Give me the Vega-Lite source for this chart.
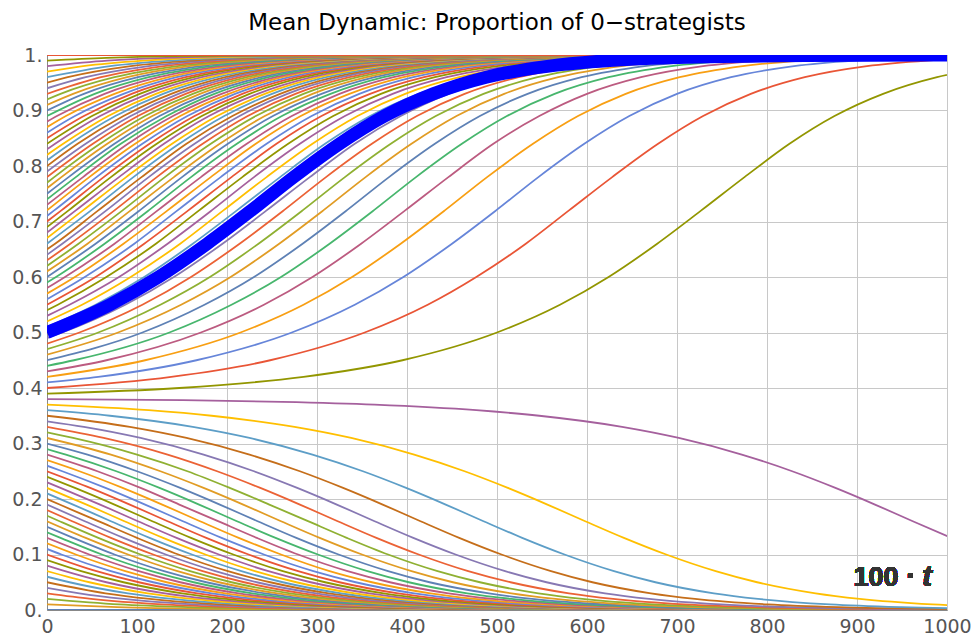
{
"$schema":"https://vega.github.io/schema/vega-lite/v6.json",
"width":900,"height":555,
"autosize":"none",
"padding":{"left":47,"top":55,"right":28,"bottom":34},
"background":"white",
"config":{"view":{"stroke":"#aaaaaa","strokeWidth":1}},
"title":{"text":"Mean Dynamic: Proportion of 0−strategists","font":"DejaVu Sans","fontSize":23,"fontWeight":"normal","color":"#000000","anchor":"middle","offset":11},
"data":{"values":[
{"c":0,"t":0,"y":0},{"c":0,"t":1000,"y":0},
{"c":1,"t":0,"y":0.01},{"c":1,"t":78,"y":0.005},{"c":1,"t":180,"y":0.002},{"c":1,"t":333,"y":0.0005},{"c":1,"t":1000,"y":0},
{"c":2,"t":0,"y":0.02},{"c":2,"t":80,"y":0.01},{"c":2,"t":159,"y":0.005},{"c":2,"t":260,"y":0.002},{"c":2,"t":413,"y":0.0005},{"c":2,"t":1000,"y":0},
{"c":3,"t":0,"y":0.03},{"c":3,"t":49,"y":0.02},{"c":3,"t":129,"y":0.01},{"c":3,"t":207,"y":0.005},{"c":3,"t":309,"y":0.002},{"c":3,"t":462,"y":0.0005},{"c":3,"t":1000,"y":0},
{"c":4,"t":0,"y":0.04},{"c":4,"t":36,"y":0.03},{"c":4,"t":85,"y":0.02},{"c":4,"t":165,"y":0.01},{"c":4,"t":243,"y":0.005},{"c":4,"t":345,"y":0.002},{"c":4,"t":498,"y":0.0005},{"c":4,"t":1000,"y":0},
{"c":5,"t":0,"y":0.05},{"c":5,"t":65,"y":0.03},{"c":5,"t":114,"y":0.02},{"c":5,"t":194,"y":0.01},{"c":5,"t":273,"y":0.005},{"c":5,"t":374,"y":0.002},{"c":5,"t":527,"y":0.0005},{"c":5,"t":1000,"y":0},
{"c":6,"t":0,"y":0.06},{"c":6,"t":25,"y":0.05},{"c":6,"t":90,"y":0.03},{"c":6,"t":139,"y":0.02},{"c":6,"t":219,"y":0.01},{"c":6,"t":297,"y":0.005},{"c":6,"t":399,"y":0.002},{"c":6,"t":552,"y":0.0005},{"c":6,"t":1000,"y":0},
{"c":7,"t":0,"y":0.07},{"c":7,"t":47,"y":0.05},{"c":7,"t":112,"y":0.03},{"c":7,"t":161,"y":0.02},{"c":7,"t":241,"y":0.01},{"c":7,"t":319,"y":0.005},{"c":7,"t":421,"y":0.002},{"c":7,"t":574,"y":0.0005},{"c":7,"t":1000,"y":0},
{"c":8,"t":0,"y":0.08},{"c":8,"t":20,"y":0.07},{"c":8,"t":66,"y":0.05},{"c":8,"t":131,"y":0.03},{"c":8,"t":180,"y":0.02},{"c":8,"t":261,"y":0.01},{"c":8,"t":339,"y":0.005},{"c":8,"t":441,"y":0.002},{"c":8,"t":594,"y":0.0005},{"c":8,"t":1000,"y":0},
{"c":9,"t":0,"y":0.09},{"c":9,"t":38,"y":0.07},{"c":9,"t":85,"y":0.05},{"c":9,"t":150,"y":0.03},{"c":9,"t":199,"y":0.02},{"c":9,"t":279,"y":0.01},{"c":9,"t":357,"y":0.005},{"c":9,"t":459,"y":0.002},{"c":9,"t":612,"y":0.0005},{"c":9,"t":1000,"y":0},
{"c":10,"t":0,"y":0.1},{"c":10,"t":55,"y":0.07},{"c":10,"t":102,"y":0.05},{"c":10,"t":167,"y":0.03},{"c":10,"t":216,"y":0.02},{"c":10,"t":296,"y":0.01},{"c":10,"t":374,"y":0.005},{"c":10,"t":476,"y":0.002},{"c":10,"t":629,"y":0.0005},{"c":10,"t":1000,"y":0},
{"c":11,"t":0,"y":0.11},{"c":11,"t":16,"y":0.1},{"c":11,"t":71,"y":0.07},{"c":11,"t":118,"y":0.05},{"c":11,"t":183,"y":0.03},{"c":11,"t":232,"y":0.02},{"c":11,"t":312,"y":0.01},{"c":11,"t":390,"y":0.005},{"c":11,"t":492,"y":0.002},{"c":11,"t":645,"y":0.0005},{"c":11,"t":1000,"y":0},
{"c":12,"t":0,"y":0.12},{"c":12,"t":32,"y":0.1},{"c":12,"t":87,"y":0.07},{"c":12,"t":133,"y":0.05},{"c":12,"t":198,"y":0.03},{"c":12,"t":247,"y":0.02},{"c":12,"t":327,"y":0.01},{"c":12,"t":406,"y":0.005},{"c":12,"t":508,"y":0.002},{"c":12,"t":661,"y":0.0005},{"c":12,"t":1000,"y":0},
{"c":13,"t":0,"y":0.13},{"c":13,"t":47,"y":0.1},{"c":13,"t":102,"y":0.07},{"c":13,"t":148,"y":0.05},{"c":13,"t":213,"y":0.03},{"c":13,"t":262,"y":0.02},{"c":13,"t":342,"y":0.01},{"c":13,"t":421,"y":0.005},{"c":13,"t":523,"y":0.002},{"c":13,"t":675,"y":0.0005},{"c":13,"t":1000,"y":0},
{"c":14,"t":0,"y":0.14},{"c":14,"t":15,"y":0.13},{"c":14,"t":61,"y":0.1},{"c":14,"t":116,"y":0.07},{"c":14,"t":163,"y":0.05},{"c":14,"t":228,"y":0.03},{"c":14,"t":277,"y":0.02},{"c":14,"t":357,"y":0.01},{"c":14,"t":435,"y":0.005},{"c":14,"t":537,"y":0.002},{"c":14,"t":690,"y":0.0005},{"c":14,"t":1000,"y":0},
{"c":15,"t":0,"y":0.15},{"c":15,"t":29,"y":0.13},{"c":15,"t":75,"y":0.1},{"c":15,"t":130,"y":0.07},{"c":15,"t":177,"y":0.05},{"c":15,"t":242,"y":0.03},{"c":15,"t":291,"y":0.02},{"c":15,"t":371,"y":0.01},{"c":15,"t":449,"y":0.005},{"c":15,"t":551,"y":0.002},{"c":15,"t":704,"y":0.0005},{"c":15,"t":1000,"y":0},
{"c":16,"t":0,"y":0.16},{"c":16,"t":43,"y":0.13},{"c":16,"t":90,"y":0.1},{"c":16,"t":145,"y":0.07},{"c":16,"t":191,"y":0.05},{"c":16,"t":256,"y":0.03},{"c":16,"t":305,"y":0.02},{"c":16,"t":385,"y":0.01},{"c":16,"t":464,"y":0.005},{"c":16,"t":566,"y":0.002},{"c":16,"t":718,"y":0.0005},{"c":16,"t":1000,"y":0},
{"c":17,"t":0,"y":0.17},{"c":17,"t":14,"y":0.16},{"c":17,"t":57,"y":0.13},{"c":17,"t":104,"y":0.1},{"c":17,"t":159,"y":0.07},{"c":17,"t":205,"y":0.05},{"c":17,"t":270,"y":0.03},{"c":17,"t":319,"y":0.02},{"c":17,"t":399,"y":0.01},{"c":17,"t":478,"y":0.005},{"c":17,"t":580,"y":0.002},{"c":17,"t":733,"y":0.0005},{"c":17,"t":1000,"y":0},
{"c":18,"t":0,"y":0.18},{"c":18,"t":28,"y":0.16},{"c":18,"t":71,"y":0.13},{"c":18,"t":118,"y":0.1},{"c":18,"t":173,"y":0.07},{"c":18,"t":219,"y":0.05},{"c":18,"t":284,"y":0.03},{"c":18,"t":333,"y":0.02},{"c":18,"t":414,"y":0.01},{"c":18,"t":492,"y":0.005},{"c":18,"t":594,"y":0.002},{"c":18,"t":747,"y":0.0005},{"c":18,"t":1000,"y":0},
{"c":19,"t":0,"y":0.19},{"c":19,"t":42,"y":0.16},{"c":19,"t":85,"y":0.13},{"c":19,"t":132,"y":0.1},{"c":19,"t":187,"y":0.07},{"c":19,"t":233,"y":0.05},{"c":19,"t":299,"y":0.03},{"c":19,"t":347,"y":0.02},{"c":19,"t":428,"y":0.01},{"c":19,"t":506,"y":0.005},{"c":19,"t":608,"y":0.002},{"c":19,"t":761,"y":0.0005},{"c":19,"t":1000,"y":0},
{"c":20,"t":0,"y":0.2},{"c":20,"t":14,"y":0.19},{"c":20,"t":57,"y":0.16},{"c":20,"t":100,"y":0.13},{"c":20,"t":146,"y":0.1},{"c":20,"t":201,"y":0.07},{"c":20,"t":248,"y":0.05},{"c":20,"t":313,"y":0.03},{"c":20,"t":362,"y":0.02},{"c":20,"t":442,"y":0.01},{"c":20,"t":520,"y":0.005},{"c":20,"t":622,"y":0.002},{"c":20,"t":775,"y":0.0005},{"c":20,"t":1000,"y":0},
{"c":21,"t":0,"y":0.21},{"c":21,"t":29,"y":0.19},{"c":21,"t":71,"y":0.16},{"c":21,"t":114,"y":0.13},{"c":21,"t":161,"y":0.1},{"c":21,"t":216,"y":0.07},{"c":21,"t":262,"y":0.05},{"c":21,"t":327,"y":0.03},{"c":21,"t":376,"y":0.02},{"c":21,"t":457,"y":0.01},{"c":21,"t":535,"y":0.005},{"c":21,"t":637,"y":0.002},{"c":21,"t":790,"y":0.0005},{"c":21,"t":1000,"y":0},
{"c":22,"t":0,"y":0.22},{"c":22,"t":44,"y":0.19},{"c":22,"t":86,"y":0.16},{"c":22,"t":129,"y":0.13},{"c":22,"t":176,"y":0.1},{"c":22,"t":231,"y":0.07},{"c":22,"t":277,"y":0.05},{"c":22,"t":342,"y":0.03},{"c":22,"t":391,"y":0.02},{"c":22,"t":472,"y":0.01},{"c":22,"t":550,"y":0.005},{"c":22,"t":652,"y":0.002},{"c":22,"t":805,"y":0.0005},{"c":22,"t":1000,"y":0},
{"c":23,"t":0,"y":0.23},{"c":23,"t":15,"y":0.22},{"c":23,"t":59,"y":0.19},{"c":23,"t":101,"y":0.16},{"c":23,"t":144,"y":0.13},{"c":23,"t":191,"y":0.1},{"c":23,"t":246,"y":0.07},{"c":23,"t":293,"y":0.05},{"c":23,"t":358,"y":0.03},{"c":23,"t":407,"y":0.02},{"c":23,"t":487,"y":0.01},{"c":23,"t":565,"y":0.005},{"c":23,"t":667,"y":0.002},{"c":23,"t":820,"y":0.0005},{"c":23,"t":1000,"y":0},
{"c":24,"t":0,"y":0.24},{"c":24,"t":31,"y":0.22},{"c":24,"t":75,"y":0.19},{"c":24,"t":117,"y":0.16},{"c":24,"t":160,"y":0.13},{"c":24,"t":207,"y":0.1},{"c":24,"t":262,"y":0.07},{"c":24,"t":309,"y":0.05},{"c":24,"t":374,"y":0.03},{"c":24,"t":422,"y":0.02},{"c":24,"t":503,"y":0.01},{"c":24,"t":581,"y":0.005},{"c":24,"t":683,"y":0.002},{"c":24,"t":836,"y":0.0005},{"c":24,"t":1000,"y":0},
{"c":25,"t":0,"y":0.25},{"c":25,"t":48,"y":0.22},{"c":25,"t":92,"y":0.19},{"c":25,"t":134,"y":0.16},{"c":25,"t":177,"y":0.13},{"c":25,"t":224,"y":0.1},{"c":25,"t":279,"y":0.07},{"c":25,"t":325,"y":0.05},{"c":25,"t":390,"y":0.03},{"c":25,"t":439,"y":0.02},{"c":25,"t":519,"y":0.01},{"c":25,"t":598,"y":0.005},{"c":25,"t":700,"y":0.002},{"c":25,"t":852,"y":0.0005},{"c":25,"t":1000,"y":0},
{"c":26,"t":0,"y":0.26},{"c":26,"t":17,"y":0.25},{"c":26,"t":65,"y":0.22},{"c":26,"t":109,"y":0.19},{"c":26,"t":151,"y":0.16},{"c":26,"t":194,"y":0.13},{"c":26,"t":241,"y":0.1},{"c":26,"t":296,"y":0.07},{"c":26,"t":343,"y":0.05},{"c":26,"t":408,"y":0.03},{"c":26,"t":457,"y":0.02},{"c":26,"t":537,"y":0.01},{"c":26,"t":615,"y":0.005},{"c":26,"t":717,"y":0.002},{"c":26,"t":870,"y":0.0005},{"c":26,"t":1000,"y":0},
{"c":27,"t":0,"y":0.27},{"c":27,"t":36,"y":0.25},{"c":27,"t":84,"y":0.22},{"c":27,"t":128,"y":0.19},{"c":27,"t":170,"y":0.16},{"c":27,"t":213,"y":0.13},{"c":27,"t":260,"y":0.1},{"c":27,"t":314,"y":0.07},{"c":27,"t":361,"y":0.05},{"c":27,"t":426,"y":0.03},{"c":27,"t":475,"y":0.02},{"c":27,"t":555,"y":0.01},{"c":27,"t":634,"y":0.005},{"c":27,"t":735,"y":0.002},{"c":27,"t":888,"y":0.0005},{"c":27,"t":1000,"y":0},
{"c":28,"t":0,"y":0.28},{"c":28,"t":56,"y":0.25},{"c":28,"t":104,"y":0.22},{"c":28,"t":147,"y":0.19},{"c":28,"t":190,"y":0.16},{"c":28,"t":233,"y":0.13},{"c":28,"t":279,"y":0.1},{"c":28,"t":334,"y":0.07},{"c":28,"t":381,"y":0.05},{"c":28,"t":446,"y":0.03},{"c":28,"t":495,"y":0.02},{"c":28,"t":575,"y":0.01},{"c":28,"t":653,"y":0.005},{"c":28,"t":755,"y":0.002},{"c":28,"t":908,"y":0.0005},{"c":28,"t":1000,"y":0},
{"c":29,"t":0,"y":0.29},{"c":29,"t":21,"y":0.28},{"c":29,"t":77,"y":0.25},{"c":29,"t":125,"y":0.22},{"c":29,"t":169,"y":0.19},{"c":29,"t":211,"y":0.16},{"c":29,"t":254,"y":0.13},{"c":29,"t":301,"y":0.1},{"c":29,"t":356,"y":0.07},{"c":29,"t":402,"y":0.05},{"c":29,"t":467,"y":0.03},{"c":29,"t":516,"y":0.02},{"c":29,"t":596,"y":0.01},{"c":29,"t":675,"y":0.005},{"c":29,"t":777,"y":0.002},{"c":29,"t":930,"y":0.0005},{"c":29,"t":1000,"y":0},
{"c":30,"t":0,"y":0.3},{"c":30,"t":45,"y":0.28},{"c":30,"t":100,"y":0.25},{"c":30,"t":148,"y":0.22},{"c":30,"t":192,"y":0.19},{"c":30,"t":234,"y":0.16},{"c":30,"t":277,"y":0.13},{"c":30,"t":324,"y":0.1},{"c":30,"t":379,"y":0.07},{"c":30,"t":425,"y":0.05},{"c":30,"t":491,"y":0.03},{"c":30,"t":539,"y":0.02},{"c":30,"t":620,"y":0.01},{"c":30,"t":698,"y":0.005},{"c":30,"t":800,"y":0.002},{"c":30,"t":953,"y":0.0005},{"c":30,"t":1000,"y":0},
{"c":31,"t":0,"y":0.31},{"c":31,"t":71,"y":0.28},{"c":31,"t":126,"y":0.25},{"c":31,"t":174,"y":0.22},{"c":31,"t":218,"y":0.19},{"c":31,"t":260,"y":0.16},{"c":31,"t":303,"y":0.13},{"c":31,"t":350,"y":0.1},{"c":31,"t":405,"y":0.07},{"c":31,"t":451,"y":0.05},{"c":31,"t":516,"y":0.03},{"c":31,"t":565,"y":0.02},{"c":31,"t":646,"y":0.01},{"c":31,"t":724,"y":0.005},{"c":31,"t":826,"y":0.002},{"c":31,"t":979,"y":0.0005},{"c":31,"t":1000,"y":0},
{"c":32,"t":0,"y":0.32},{"c":32,"t":29,"y":0.31},{"c":32,"t":100,"y":0.28},{"c":32,"t":156,"y":0.25},{"c":32,"t":203,"y":0.22},{"c":32,"t":247,"y":0.19},{"c":32,"t":290,"y":0.16},{"c":32,"t":333,"y":0.13},{"c":32,"t":379,"y":0.1},{"c":32,"t":434,"y":0.07},{"c":32,"t":481,"y":0.05},{"c":32,"t":546,"y":0.03},{"c":32,"t":595,"y":0.02},{"c":32,"t":675,"y":0.01},{"c":32,"t":753,"y":0.005},{"c":32,"t":855,"y":0.002},{"c":32,"t":1008,"y":0.0005},
{"c":33,"t":0,"y":0.33},{"c":33,"t":63,"y":0.31},{"c":33,"t":134,"y":0.28},{"c":33,"t":189,"y":0.25},{"c":33,"t":237,"y":0.22},{"c":33,"t":281,"y":0.19},{"c":33,"t":323,"y":0.16},{"c":33,"t":366,"y":0.13},{"c":33,"t":413,"y":0.1},{"c":33,"t":468,"y":0.07},{"c":33,"t":515,"y":0.05},{"c":33,"t":580,"y":0.03},{"c":33,"t":629,"y":0.02},{"c":33,"t":709,"y":0.01},{"c":33,"t":787,"y":0.005},{"c":33,"t":889,"y":0.002},{"c":33,"t":1042,"y":0.0005},
{"c":34,"t":0,"y":0.34},{"c":34,"t":41,"y":0.33},{"c":34,"t":104,"y":0.31},{"c":34,"t":174,"y":0.28},{"c":34,"t":230,"y":0.25},{"c":34,"t":278,"y":0.22},{"c":34,"t":322,"y":0.19},{"c":34,"t":364,"y":0.16},{"c":34,"t":407,"y":0.13},{"c":34,"t":454,"y":0.1},{"c":34,"t":509,"y":0.07},{"c":34,"t":555,"y":0.05},{"c":34,"t":620,"y":0.03},{"c":34,"t":669,"y":0.02},{"c":34,"t":749,"y":0.01},{"c":34,"t":828,"y":0.005},{"c":34,"t":930,"y":0.002},{"c":34,"t":1083,"y":0.0005},
{"c":35,"t":0,"y":0.35},{"c":35,"t":92,"y":0.33},{"c":35,"t":155,"y":0.31},{"c":35,"t":225,"y":0.28},{"c":35,"t":281,"y":0.25},{"c":35,"t":329,"y":0.22},{"c":35,"t":373,"y":0.19},{"c":35,"t":415,"y":0.16},{"c":35,"t":458,"y":0.13},{"c":35,"t":505,"y":0.1},{"c":35,"t":560,"y":0.07},{"c":35,"t":606,"y":0.05},{"c":35,"t":671,"y":0.03},{"c":35,"t":720,"y":0.02},{"c":35,"t":801,"y":0.01},{"c":35,"t":879,"y":0.005},{"c":35,"t":981,"y":0.002},{"c":35,"t":1134,"y":0.0005},
{"c":36,"t":0,"y":0.36},{"c":36,"t":70,"y":0.35},{"c":36,"t":162,"y":0.33},{"c":36,"t":225,"y":0.31},{"c":36,"t":295,"y":0.28},{"c":36,"t":351,"y":0.25},{"c":36,"t":399,"y":0.22},{"c":36,"t":443,"y":0.19},{"c":36,"t":485,"y":0.16},{"c":36,"t":528,"y":0.13},{"c":36,"t":575,"y":0.1},{"c":36,"t":630,"y":0.07},{"c":36,"t":676,"y":0.05},{"c":36,"t":741,"y":0.03},{"c":36,"t":790,"y":0.02},{"c":36,"t":870,"y":0.01},{"c":36,"t":949,"y":0.005},{"c":36,"t":1051,"y":0.002},
{"c":37,"t":0,"y":0.37},{"c":37,"t":113,"y":0.36},{"c":37,"t":183,"y":0.35},{"c":37,"t":275,"y":0.33},{"c":37,"t":338,"y":0.31},{"c":37,"t":408,"y":0.28},{"c":37,"t":464,"y":0.25},{"c":37,"t":512,"y":0.22},{"c":37,"t":556,"y":0.19},{"c":37,"t":598,"y":0.16},{"c":37,"t":641,"y":0.13},{"c":37,"t":688,"y":0.1},{"c":37,"t":743,"y":0.07},{"c":37,"t":789,"y":0.05},{"c":37,"t":854,"y":0.03},{"c":37,"t":903,"y":0.02},{"c":37,"t":984,"y":0.01},{"c":37,"t":1062,"y":0.005},
{"c":38,"t":0,"y":0.38},{"c":38,"t":151,"y":0.378},{"c":38,"t":261,"y":0.375},{"c":38,"t":364,"y":0.37},{"c":38,"t":477,"y":0.36},{"c":38,"t":547,"y":0.35},{"c":38,"t":639,"y":0.33},{"c":38,"t":702,"y":0.31},{"c":38,"t":772,"y":0.28},{"c":38,"t":828,"y":0.25},{"c":38,"t":876,"y":0.22},{"c":38,"t":920,"y":0.19},{"c":38,"t":962,"y":0.16},{"c":38,"t":1005,"y":0.13},
{"c":39,"t":0,"y":0.39},{"c":39,"t":147,"y":0.4},{"c":39,"t":285,"y":0.42},{"c":39,"t":395,"y":0.45},{"c":39,"t":500,"y":0.5},{"c":39,"t":570,"y":0.55},{"c":39,"t":624,"y":0.6},{"c":39,"t":678,"y":0.66},{"c":39,"t":727,"y":0.72},{"c":39,"t":775,"y":0.78},{"c":39,"t":825,"y":0.84},{"c":39,"t":875,"y":0.89},{"c":39,"t":929,"y":0.93},{"c":39,"t":989,"y":0.96},{"c":39,"t":1058,"y":0.98},
{"c":40,"t":0,"y":0.4},{"c":40,"t":138,"y":0.42},{"c":40,"t":248,"y":0.45},{"c":40,"t":353,"y":0.5},{"c":40,"t":423,"y":0.55},{"c":40,"t":477,"y":0.6},{"c":40,"t":532,"y":0.66},{"c":40,"t":580,"y":0.72},{"c":40,"t":628,"y":0.78},{"c":40,"t":679,"y":0.84},{"c":40,"t":729,"y":0.89},{"c":40,"t":782,"y":0.93},{"c":40,"t":842,"y":0.96},{"c":40,"t":911,"y":0.98},{"c":40,"t":978,"y":0.99},{"c":40,"t":1044,"y":0.995},
{"c":41,"t":0,"y":0.41},{"c":41,"t":57,"y":0.42},{"c":41,"t":166,"y":0.45},{"c":41,"t":272,"y":0.5},{"c":41,"t":342,"y":0.55},{"c":41,"t":396,"y":0.6},{"c":41,"t":450,"y":0.66},{"c":41,"t":499,"y":0.72},{"c":41,"t":546,"y":0.78},{"c":41,"t":597,"y":0.84},{"c":41,"t":647,"y":0.89},{"c":41,"t":700,"y":0.93},{"c":41,"t":760,"y":0.96},{"c":41,"t":830,"y":0.98},{"c":41,"t":897,"y":0.99},{"c":41,"t":963,"y":0.995},{"c":41,"t":1114,"y":0.999},
{"c":42,"t":0,"y":0.42},{"c":42,"t":109,"y":0.45},{"c":42,"t":215,"y":0.5},{"c":42,"t":285,"y":0.55},{"c":42,"t":339,"y":0.6},{"c":42,"t":393,"y":0.66},{"c":42,"t":442,"y":0.72},{"c":42,"t":489,"y":0.78},{"c":42,"t":540,"y":0.84},{"c":42,"t":590,"y":0.89},{"c":42,"t":643,"y":0.93},{"c":42,"t":703,"y":0.96},{"c":42,"t":773,"y":0.98},{"c":42,"t":840,"y":0.99},{"c":42,"t":906,"y":0.995},{"c":42,"t":1057,"y":0.999},
{"c":43,"t":0,"y":0.43},{"c":43,"t":66,"y":0.45},{"c":43,"t":171,"y":0.5},{"c":43,"t":241,"y":0.55},{"c":43,"t":295,"y":0.6},{"c":43,"t":349,"y":0.66},{"c":43,"t":398,"y":0.72},{"c":43,"t":446,"y":0.78},{"c":43,"t":496,"y":0.84},{"c":43,"t":547,"y":0.89},{"c":43,"t":600,"y":0.93},{"c":43,"t":660,"y":0.96},{"c":43,"t":729,"y":0.98},{"c":43,"t":796,"y":0.99},{"c":43,"t":862,"y":0.995},{"c":43,"t":1014,"y":0.999},
{"c":44,"t":0,"y":0.44},{"c":44,"t":30,"y":0.45},{"c":44,"t":136,"y":0.5},{"c":44,"t":205,"y":0.55},{"c":44,"t":260,"y":0.6},{"c":44,"t":314,"y":0.66},{"c":44,"t":363,"y":0.72},{"c":44,"t":410,"y":0.78},{"c":44,"t":461,"y":0.84},{"c":44,"t":511,"y":0.89},{"c":44,"t":564,"y":0.93},{"c":44,"t":624,"y":0.96},{"c":44,"t":694,"y":0.98},{"c":44,"t":761,"y":0.99},{"c":44,"t":827,"y":0.995},{"c":44,"t":978,"y":0.999},{"c":44,"t":1000,"y":1},
{"c":45,"t":0,"y":0.45},{"c":45,"t":106,"y":0.5},{"c":45,"t":175,"y":0.55},{"c":45,"t":230,"y":0.6},{"c":45,"t":284,"y":0.66},{"c":45,"t":333,"y":0.72},{"c":45,"t":380,"y":0.78},{"c":45,"t":431,"y":0.84},{"c":45,"t":481,"y":0.89},{"c":45,"t":534,"y":0.93},{"c":45,"t":594,"y":0.96},{"c":45,"t":664,"y":0.98},{"c":45,"t":731,"y":0.99},{"c":45,"t":797,"y":0.995},{"c":45,"t":948,"y":0.999},{"c":45,"t":1000,"y":1},
{"c":46,"t":0,"y":0.46},{"c":46,"t":79,"y":0.5},{"c":46,"t":149,"y":0.55},{"c":46,"t":204,"y":0.6},{"c":46,"t":258,"y":0.66},{"c":46,"t":307,"y":0.72},{"c":46,"t":354,"y":0.78},{"c":46,"t":405,"y":0.84},{"c":46,"t":455,"y":0.89},{"c":46,"t":508,"y":0.93},{"c":46,"t":568,"y":0.96},{"c":46,"t":638,"y":0.98},{"c":46,"t":705,"y":0.99},{"c":46,"t":771,"y":0.995},{"c":46,"t":922,"y":0.999},{"c":46,"t":1000,"y":1},
{"c":47,"t":0,"y":0.47},{"c":47,"t":57,"y":0.5},{"c":47,"t":126,"y":0.55},{"c":47,"t":181,"y":0.6},{"c":47,"t":235,"y":0.66},{"c":47,"t":284,"y":0.72},{"c":47,"t":331,"y":0.78},{"c":47,"t":382,"y":0.84},{"c":47,"t":432,"y":0.89},{"c":47,"t":485,"y":0.93},{"c":47,"t":545,"y":0.96},{"c":47,"t":615,"y":0.98},{"c":47,"t":682,"y":0.99},{"c":47,"t":748,"y":0.995},{"c":47,"t":899,"y":0.999},{"c":47,"t":1000,"y":1},
{"c":48,"t":0,"y":0.48},{"c":48,"t":36,"y":0.5},{"c":48,"t":106,"y":0.55},{"c":48,"t":160,"y":0.6},{"c":48,"t":214,"y":0.66},{"c":48,"t":263,"y":0.72},{"c":48,"t":310,"y":0.78},{"c":48,"t":361,"y":0.84},{"c":48,"t":411,"y":0.89},{"c":48,"t":464,"y":0.93},{"c":48,"t":524,"y":0.96},{"c":48,"t":594,"y":0.98},{"c":48,"t":661,"y":0.99},{"c":48,"t":727,"y":0.995},{"c":48,"t":878,"y":0.999},{"c":48,"t":1000,"y":1},
{"c":49,"t":0,"y":0.49},{"c":49,"t":17,"y":0.5},{"c":49,"t":87,"y":0.55},{"c":49,"t":141,"y":0.6},{"c":49,"t":195,"y":0.66},{"c":49,"t":244,"y":0.72},{"c":49,"t":292,"y":0.78},{"c":49,"t":342,"y":0.84},{"c":49,"t":393,"y":0.89},{"c":49,"t":446,"y":0.93},{"c":49,"t":506,"y":0.96},{"c":49,"t":575,"y":0.98},{"c":49,"t":642,"y":0.99},{"c":49,"t":708,"y":0.995},{"c":49,"t":860,"y":0.999},{"c":49,"t":1000,"y":1},
{"c":50,"t":0,"y":0.5},{"c":50,"t":70,"y":0.55},{"c":50,"t":124,"y":0.6},{"c":50,"t":178,"y":0.66},{"c":50,"t":227,"y":0.72},{"c":50,"t":274,"y":0.78},{"c":50,"t":325,"y":0.84},{"c":50,"t":375,"y":0.89},{"c":50,"t":429,"y":0.93},{"c":50,"t":488,"y":0.96},{"c":50,"t":558,"y":0.98},{"c":50,"t":625,"y":0.99},{"c":50,"t":691,"y":0.995},{"c":50,"t":842,"y":0.999},{"c":50,"t":1000,"y":1},
{"c":51,"t":0,"y":0.51},{"c":51,"t":54,"y":0.55},{"c":51,"t":108,"y":0.6},{"c":51,"t":162,"y":0.66},{"c":51,"t":211,"y":0.72},{"c":51,"t":259,"y":0.78},{"c":51,"t":309,"y":0.84},{"c":51,"t":359,"y":0.89},{"c":51,"t":413,"y":0.93},{"c":51,"t":473,"y":0.96},{"c":51,"t":542,"y":0.98},{"c":51,"t":609,"y":0.99},{"c":51,"t":675,"y":0.995},{"c":51,"t":827,"y":0.999},{"c":51,"t":1000,"y":1},
{"c":52,"t":0,"y":0.52},{"c":52,"t":39,"y":0.55},{"c":52,"t":93,"y":0.6},{"c":52,"t":148,"y":0.66},{"c":52,"t":196,"y":0.72},{"c":52,"t":244,"y":0.78},{"c":52,"t":295,"y":0.84},{"c":52,"t":345,"y":0.89},{"c":52,"t":398,"y":0.93},{"c":52,"t":458,"y":0.96},{"c":52,"t":527,"y":0.98},{"c":52,"t":595,"y":0.99},{"c":52,"t":660,"y":0.995},{"c":52,"t":812,"y":0.999},{"c":52,"t":1000,"y":1},
{"c":53,"t":0,"y":0.53},{"c":53,"t":25,"y":0.55},{"c":53,"t":80,"y":0.6},{"c":53,"t":134,"y":0.66},{"c":53,"t":183,"y":0.72},{"c":53,"t":230,"y":0.78},{"c":53,"t":281,"y":0.84},{"c":53,"t":331,"y":0.89},{"c":53,"t":384,"y":0.93},{"c":53,"t":444,"y":0.96},{"c":53,"t":514,"y":0.98},{"c":53,"t":581,"y":0.99},{"c":53,"t":647,"y":0.995},{"c":53,"t":798,"y":0.999},{"c":53,"t":1000,"y":1},
{"c":54,"t":0,"y":0.54},{"c":54,"t":12,"y":0.55},{"c":54,"t":66,"y":0.6},{"c":54,"t":121,"y":0.66},{"c":54,"t":169,"y":0.72},{"c":54,"t":217,"y":0.78},{"c":54,"t":268,"y":0.84},{"c":54,"t":318,"y":0.89},{"c":54,"t":371,"y":0.93},{"c":54,"t":431,"y":0.96},{"c":54,"t":500,"y":0.98},{"c":54,"t":568,"y":0.99},{"c":54,"t":634,"y":0.995},{"c":54,"t":785,"y":0.999},{"c":54,"t":1000,"y":1},
{"c":55,"t":0,"y":0.55},{"c":55,"t":54,"y":0.6},{"c":55,"t":108,"y":0.66},{"c":55,"t":157,"y":0.72},{"c":55,"t":205,"y":0.78},{"c":55,"t":255,"y":0.84},{"c":55,"t":305,"y":0.89},{"c":55,"t":359,"y":0.93},{"c":55,"t":419,"y":0.96},{"c":55,"t":488,"y":0.98},{"c":55,"t":555,"y":0.99},{"c":55,"t":621,"y":0.995},{"c":55,"t":772,"y":0.999},{"c":55,"t":1000,"y":1},
{"c":56,"t":0,"y":0.56},{"c":56,"t":42,"y":0.6},{"c":56,"t":97,"y":0.66},{"c":56,"t":145,"y":0.72},{"c":56,"t":193,"y":0.78},{"c":56,"t":244,"y":0.84},{"c":56,"t":294,"y":0.89},{"c":56,"t":347,"y":0.93},{"c":56,"t":407,"y":0.96},{"c":56,"t":476,"y":0.98},{"c":56,"t":543,"y":0.99},{"c":56,"t":609,"y":0.995},{"c":56,"t":761,"y":0.999},{"c":56,"t":1000,"y":1},
{"c":57,"t":0,"y":0.57},{"c":57,"t":31,"y":0.6},{"c":57,"t":85,"y":0.66},{"c":57,"t":134,"y":0.72},{"c":57,"t":182,"y":0.78},{"c":57,"t":232,"y":0.84},{"c":57,"t":282,"y":0.89},{"c":57,"t":336,"y":0.93},{"c":57,"t":396,"y":0.96},{"c":57,"t":465,"y":0.98},{"c":57,"t":532,"y":0.99},{"c":57,"t":598,"y":0.995},{"c":57,"t":749,"y":0.999},{"c":57,"t":1000,"y":1},
{"c":58,"t":0,"y":0.58},{"c":58,"t":20,"y":0.6},{"c":58,"t":75,"y":0.66},{"c":58,"t":123,"y":0.72},{"c":58,"t":171,"y":0.78},{"c":58,"t":222,"y":0.84},{"c":58,"t":272,"y":0.89},{"c":58,"t":325,"y":0.93},{"c":58,"t":385,"y":0.96},{"c":58,"t":454,"y":0.98},{"c":58,"t":521,"y":0.99},{"c":58,"t":587,"y":0.995},{"c":58,"t":739,"y":0.999},{"c":58,"t":1000,"y":1},
{"c":59,"t":0,"y":0.59},{"c":59,"t":10,"y":0.6},{"c":59,"t":64,"y":0.66},{"c":59,"t":113,"y":0.72},{"c":59,"t":160,"y":0.78},{"c":59,"t":211,"y":0.84},{"c":59,"t":261,"y":0.89},{"c":59,"t":315,"y":0.93},{"c":59,"t":374,"y":0.96},{"c":59,"t":444,"y":0.98},{"c":59,"t":511,"y":0.99},{"c":59,"t":577,"y":0.995},{"c":59,"t":728,"y":0.999},{"c":59,"t":1000,"y":1},
{"c":60,"t":0,"y":0.6},{"c":60,"t":54,"y":0.66},{"c":60,"t":103,"y":0.72},{"c":60,"t":150,"y":0.78},{"c":60,"t":201,"y":0.84},{"c":60,"t":251,"y":0.89},{"c":60,"t":305,"y":0.93},{"c":60,"t":364,"y":0.96},{"c":60,"t":434,"y":0.98},{"c":60,"t":501,"y":0.99},{"c":60,"t":567,"y":0.995},{"c":60,"t":718,"y":0.999},{"c":60,"t":1000,"y":1},
{"c":61,"t":0,"y":0.61},{"c":61,"t":45,"y":0.66},{"c":61,"t":93,"y":0.72},{"c":61,"t":141,"y":0.78},{"c":61,"t":192,"y":0.84},{"c":61,"t":242,"y":0.89},{"c":61,"t":295,"y":0.93},{"c":61,"t":355,"y":0.96},{"c":61,"t":424,"y":0.98},{"c":61,"t":491,"y":0.99},{"c":61,"t":557,"y":0.995},{"c":61,"t":709,"y":0.999},{"c":61,"t":1000,"y":1},
{"c":62,"t":0,"y":0.62},{"c":62,"t":35,"y":0.66},{"c":62,"t":84,"y":0.72},{"c":62,"t":131,"y":0.78},{"c":62,"t":182,"y":0.84},{"c":62,"t":232,"y":0.89},{"c":62,"t":285,"y":0.93},{"c":62,"t":345,"y":0.96},{"c":62,"t":415,"y":0.98},{"c":62,"t":482,"y":0.99},{"c":62,"t":548,"y":0.995},{"c":62,"t":699,"y":0.999},{"c":62,"t":1000,"y":1},
{"c":63,"t":0,"y":0.63},{"c":63,"t":26,"y":0.66},{"c":63,"t":75,"y":0.72},{"c":63,"t":122,"y":0.78},{"c":63,"t":173,"y":0.84},{"c":63,"t":223,"y":0.89},{"c":63,"t":276,"y":0.93},{"c":63,"t":336,"y":0.96},{"c":63,"t":406,"y":0.98},{"c":63,"t":473,"y":0.99},{"c":63,"t":539,"y":0.995},{"c":63,"t":690,"y":0.999},{"c":63,"t":1000,"y":1},
{"c":64,"t":0,"y":0.64},{"c":64,"t":17,"y":0.66},{"c":64,"t":66,"y":0.72},{"c":64,"t":113,"y":0.78},{"c":64,"t":164,"y":0.84},{"c":64,"t":214,"y":0.89},{"c":64,"t":267,"y":0.93},{"c":64,"t":327,"y":0.96},{"c":64,"t":397,"y":0.98},{"c":64,"t":464,"y":0.99},{"c":64,"t":530,"y":0.995},{"c":64,"t":681,"y":0.999},{"c":64,"t":1000,"y":1},
{"c":65,"t":0,"y":0.65},{"c":65,"t":9,"y":0.66},{"c":65,"t":57,"y":0.72},{"c":65,"t":105,"y":0.78},{"c":65,"t":155,"y":0.84},{"c":65,"t":206,"y":0.89},{"c":65,"t":259,"y":0.93},{"c":65,"t":319,"y":0.96},{"c":65,"t":388,"y":0.98},{"c":65,"t":455,"y":0.99},{"c":65,"t":521,"y":0.995},{"c":65,"t":673,"y":0.999},{"c":65,"t":1000,"y":1},
{"c":66,"t":0,"y":0.66},{"c":66,"t":49,"y":0.72},{"c":66,"t":96,"y":0.78},{"c":66,"t":147,"y":0.84},{"c":66,"t":197,"y":0.89},{"c":66,"t":250,"y":0.93},{"c":66,"t":310,"y":0.96},{"c":66,"t":380,"y":0.98},{"c":66,"t":447,"y":0.99},{"c":66,"t":513,"y":0.995},{"c":66,"t":664,"y":0.999},{"c":66,"t":1000,"y":1},
{"c":67,"t":0,"y":0.67},{"c":67,"t":40,"y":0.72},{"c":67,"t":88,"y":0.78},{"c":67,"t":139,"y":0.84},{"c":67,"t":189,"y":0.89},{"c":67,"t":242,"y":0.93},{"c":67,"t":302,"y":0.96},{"c":67,"t":371,"y":0.98},{"c":67,"t":438,"y":0.99},{"c":67,"t":504,"y":0.995},{"c":67,"t":656,"y":0.999},{"c":67,"t":1000,"y":1},
{"c":68,"t":0,"y":0.68},{"c":68,"t":32,"y":0.72},{"c":68,"t":80,"y":0.78},{"c":68,"t":130,"y":0.84},{"c":68,"t":180,"y":0.89},{"c":68,"t":234,"y":0.93},{"c":68,"t":294,"y":0.96},{"c":68,"t":363,"y":0.98},{"c":68,"t":430,"y":0.99},{"c":68,"t":496,"y":0.995},{"c":68,"t":647,"y":0.999},{"c":68,"t":1000,"y":1},
{"c":69,"t":0,"y":0.69},{"c":69,"t":24,"y":0.72},{"c":69,"t":71,"y":0.78},{"c":69,"t":122,"y":0.84},{"c":69,"t":172,"y":0.89},{"c":69,"t":225,"y":0.93},{"c":69,"t":285,"y":0.96},{"c":69,"t":355,"y":0.98},{"c":69,"t":422,"y":0.99},{"c":69,"t":488,"y":0.995},{"c":69,"t":639,"y":0.999},{"c":69,"t":1000,"y":1},
{"c":70,"t":0,"y":0.7},{"c":70,"t":16,"y":0.72},{"c":70,"t":63,"y":0.78},{"c":70,"t":114,"y":0.84},{"c":70,"t":164,"y":0.89},{"c":70,"t":217,"y":0.93},{"c":70,"t":277,"y":0.96},{"c":70,"t":347,"y":0.98},{"c":70,"t":414,"y":0.99},{"c":70,"t":480,"y":0.995},{"c":70,"t":631,"y":0.999},{"c":70,"t":1000,"y":1},
{"c":71,"t":0,"y":0.71},{"c":71,"t":8,"y":0.72},{"c":71,"t":55,"y":0.78},{"c":71,"t":106,"y":0.84},{"c":71,"t":156,"y":0.89},{"c":71,"t":209,"y":0.93},{"c":71,"t":269,"y":0.96},{"c":71,"t":339,"y":0.98},{"c":71,"t":406,"y":0.99},{"c":71,"t":472,"y":0.995},{"c":71,"t":623,"y":0.999},{"c":71,"t":1000,"y":1},
{"c":72,"t":0,"y":0.72},{"c":72,"t":47,"y":0.78},{"c":72,"t":98,"y":0.84},{"c":72,"t":148,"y":0.89},{"c":72,"t":202,"y":0.93},{"c":72,"t":261,"y":0.96},{"c":72,"t":331,"y":0.98},{"c":72,"t":398,"y":0.99},{"c":72,"t":464,"y":0.995},{"c":72,"t":615,"y":0.999},{"c":72,"t":1000,"y":1},
{"c":73,"t":0,"y":0.73},{"c":73,"t":40,"y":0.78},{"c":73,"t":90,"y":0.84},{"c":73,"t":140,"y":0.89},{"c":73,"t":194,"y":0.93},{"c":73,"t":254,"y":0.96},{"c":73,"t":323,"y":0.98},{"c":73,"t":390,"y":0.99},{"c":73,"t":456,"y":0.995},{"c":73,"t":608,"y":0.999},{"c":73,"t":1000,"y":1},
{"c":74,"t":0,"y":0.74},{"c":74,"t":32,"y":0.78},{"c":74,"t":82,"y":0.84},{"c":74,"t":133,"y":0.89},{"c":74,"t":186,"y":0.93},{"c":74,"t":246,"y":0.96},{"c":74,"t":315,"y":0.98},{"c":74,"t":382,"y":0.99},{"c":74,"t":448,"y":0.995},{"c":74,"t":600,"y":0.999},{"c":74,"t":1000,"y":1},
{"c":75,"t":0,"y":0.75},{"c":75,"t":24,"y":0.78},{"c":75,"t":75,"y":0.84},{"c":75,"t":125,"y":0.89},{"c":75,"t":178,"y":0.93},{"c":75,"t":238,"y":0.96},{"c":75,"t":307,"y":0.98},{"c":75,"t":375,"y":0.99},{"c":75,"t":440,"y":0.995},{"c":75,"t":592,"y":0.999},{"c":75,"t":1000,"y":1},
{"c":76,"t":0,"y":0.76},{"c":76,"t":16,"y":0.78},{"c":76,"t":67,"y":0.84},{"c":76,"t":117,"y":0.89},{"c":76,"t":170,"y":0.93},{"c":76,"t":230,"y":0.96},{"c":76,"t":299,"y":0.98},{"c":76,"t":367,"y":0.99},{"c":76,"t":433,"y":0.995},{"c":76,"t":584,"y":0.999},{"c":76,"t":1000,"y":1},
{"c":77,"t":0,"y":0.77},{"c":77,"t":8,"y":0.78},{"c":77,"t":59,"y":0.84},{"c":77,"t":109,"y":0.89},{"c":77,"t":162,"y":0.93},{"c":77,"t":222,"y":0.96},{"c":77,"t":292,"y":0.98},{"c":77,"t":359,"y":0.99},{"c":77,"t":425,"y":0.995},{"c":77,"t":576,"y":0.999},{"c":77,"t":1000,"y":1},
{"c":78,"t":0,"y":0.78},{"c":78,"t":51,"y":0.84},{"c":78,"t":101,"y":0.89},{"c":78,"t":154,"y":0.93},{"c":78,"t":214,"y":0.96},{"c":78,"t":284,"y":0.98},{"c":78,"t":351,"y":0.99},{"c":78,"t":417,"y":0.995},{"c":78,"t":568,"y":0.999},{"c":78,"t":1000,"y":1},
{"c":79,"t":0,"y":0.79},{"c":79,"t":43,"y":0.84},{"c":79,"t":93,"y":0.89},{"c":79,"t":146,"y":0.93},{"c":79,"t":206,"y":0.96},{"c":79,"t":275,"y":0.98},{"c":79,"t":343,"y":0.99},{"c":79,"t":409,"y":0.995},{"c":79,"t":560,"y":0.999},{"c":79,"t":1000,"y":1},
{"c":80,"t":0,"y":0.8},{"c":80,"t":34,"y":0.84},{"c":80,"t":85,"y":0.89},{"c":80,"t":138,"y":0.93},{"c":80,"t":198,"y":0.96},{"c":80,"t":267,"y":0.98},{"c":80,"t":334,"y":0.99},{"c":80,"t":400,"y":0.995},{"c":80,"t":552,"y":0.999},{"c":80,"t":1000,"y":1},
{"c":81,"t":0,"y":0.81},{"c":81,"t":26,"y":0.84},{"c":81,"t":76,"y":0.89},{"c":81,"t":129,"y":0.93},{"c":81,"t":189,"y":0.96},{"c":81,"t":259,"y":0.98},{"c":81,"t":326,"y":0.99},{"c":81,"t":392,"y":0.995},{"c":81,"t":543,"y":0.999},{"c":81,"t":1000,"y":1},
{"c":82,"t":0,"y":0.82},{"c":82,"t":18,"y":0.84},{"c":82,"t":68,"y":0.89},{"c":82,"t":121,"y":0.93},{"c":82,"t":181,"y":0.96},{"c":82,"t":250,"y":0.98},{"c":82,"t":318,"y":0.99},{"c":82,"t":384,"y":0.995},{"c":82,"t":535,"y":0.999},{"c":82,"t":1000,"y":1},
{"c":83,"t":0,"y":0.83},{"c":83,"t":9,"y":0.84},{"c":83,"t":59,"y":0.89},{"c":83,"t":112,"y":0.93},{"c":83,"t":172,"y":0.96},{"c":83,"t":242,"y":0.98},{"c":83,"t":309,"y":0.99},{"c":83,"t":375,"y":0.995},{"c":83,"t":526,"y":0.999},{"c":83,"t":1000,"y":1},
{"c":84,"t":0,"y":0.84},{"c":84,"t":50,"y":0.89},{"c":84,"t":103,"y":0.93},{"c":84,"t":163,"y":0.96},{"c":84,"t":233,"y":0.98},{"c":84,"t":300,"y":0.99},{"c":84,"t":366,"y":0.995},{"c":84,"t":517,"y":0.999},{"c":84,"t":1000,"y":1},
{"c":85,"t":0,"y":0.85},{"c":85,"t":41,"y":0.89},{"c":85,"t":94,"y":0.93},{"c":85,"t":154,"y":0.96},{"c":85,"t":224,"y":0.98},{"c":85,"t":291,"y":0.99},{"c":85,"t":357,"y":0.995},{"c":85,"t":508,"y":0.999},{"c":85,"t":1000,"y":1},
{"c":86,"t":0,"y":0.86},{"c":86,"t":31,"y":0.89},{"c":86,"t":85,"y":0.93},{"c":86,"t":144,"y":0.96},{"c":86,"t":214,"y":0.98},{"c":86,"t":281,"y":0.99},{"c":86,"t":347,"y":0.995},{"c":86,"t":498,"y":0.999},{"c":86,"t":1000,"y":1},
{"c":87,"t":0,"y":0.87},{"c":87,"t":21,"y":0.89},{"c":87,"t":75,"y":0.93},{"c":87,"t":135,"y":0.96},{"c":87,"t":204,"y":0.98},{"c":87,"t":271,"y":0.99},{"c":87,"t":337,"y":0.995},{"c":87,"t":489,"y":0.999},{"c":87,"t":1000,"y":1},
{"c":88,"t":0,"y":0.88},{"c":88,"t":11,"y":0.89},{"c":88,"t":64,"y":0.93},{"c":88,"t":124,"y":0.96},{"c":88,"t":194,"y":0.98},{"c":88,"t":261,"y":0.99},{"c":88,"t":327,"y":0.995},{"c":88,"t":478,"y":0.999},{"c":88,"t":1000,"y":1},
{"c":89,"t":0,"y":0.89},{"c":89,"t":53,"y":0.93},{"c":89,"t":113,"y":0.96},{"c":89,"t":183,"y":0.98},{"c":89,"t":250,"y":0.99},{"c":89,"t":316,"y":0.995},{"c":89,"t":467,"y":0.999},{"c":89,"t":1000,"y":1},
{"c":90,"t":0,"y":0.9},{"c":90,"t":41,"y":0.93},{"c":90,"t":101,"y":0.96},{"c":90,"t":171,"y":0.98},{"c":90,"t":238,"y":0.99},{"c":90,"t":304,"y":0.995},{"c":90,"t":455,"y":0.999},{"c":90,"t":1000,"y":1},
{"c":91,"t":0,"y":0.91},{"c":91,"t":29,"y":0.93},{"c":91,"t":89,"y":0.96},{"c":91,"t":158,"y":0.98},{"c":91,"t":225,"y":0.99},{"c":91,"t":291,"y":0.995},{"c":91,"t":443,"y":0.999},{"c":91,"t":1000,"y":1},
{"c":92,"t":0,"y":0.92},{"c":92,"t":15,"y":0.93},{"c":92,"t":75,"y":0.96},{"c":92,"t":145,"y":0.98},{"c":92,"t":212,"y":0.99},{"c":92,"t":278,"y":0.995},{"c":92,"t":429,"y":0.999},{"c":92,"t":1000,"y":1},
{"c":93,"t":0,"y":0.93},{"c":93,"t":60,"y":0.96},{"c":93,"t":130,"y":0.98},{"c":93,"t":197,"y":0.99},{"c":93,"t":263,"y":0.995},{"c":93,"t":414,"y":0.999},{"c":93,"t":1000,"y":1},
{"c":94,"t":0,"y":0.94},{"c":94,"t":43,"y":0.96},{"c":94,"t":113,"y":0.98},{"c":94,"t":180,"y":0.99},{"c":94,"t":246,"y":0.995},{"c":94,"t":397,"y":0.999},{"c":94,"t":1000,"y":1},
{"c":95,"t":0,"y":0.95},{"c":95,"t":23,"y":0.96},{"c":95,"t":93,"y":0.98},{"c":95,"t":160,"y":0.99},{"c":95,"t":226,"y":0.995},{"c":95,"t":377,"y":0.999},{"c":95,"t":1000,"y":1},
{"c":96,"t":0,"y":0.96},{"c":96,"t":70,"y":0.98},{"c":96,"t":137,"y":0.99},{"c":96,"t":203,"y":0.995},{"c":96,"t":354,"y":0.999},{"c":96,"t":1000,"y":1},
{"c":97,"t":0,"y":0.97},{"c":97,"t":40,"y":0.98},{"c":97,"t":107,"y":0.99},{"c":97,"t":173,"y":0.995},{"c":97,"t":325,"y":0.999},{"c":97,"t":1000,"y":1},
{"c":98,"t":0,"y":0.98},{"c":98,"t":67,"y":0.99},{"c":98,"t":133,"y":0.995},{"c":98,"t":284,"y":0.999},{"c":98,"t":1000,"y":1},
{"c":99,"t":0,"y":0.99},{"c":99,"t":66,"y":0.995},{"c":99,"t":217,"y":0.999},{"c":99,"t":1000,"y":1},
{"c":100,"t":0,"y":1},{"c":100,"t":1000,"y":1}
]},
"layer":[
{"mark":{"type":"line","interpolate":"monotone","strokeWidth":1.8,"clip":true},
 "encoding":{
  "x":{"field":"t","type":"quantitative","scale":{"domain":[0,1000],"nice":false,"zero":false},
       "axis":{"values":[0,100,200,300,400,500,600,700,800,900,1000],"format":"d","title":null,"grid":true,"gridColor":"#c8c8c8","gridWidth":1,"ticks":false,"tickSize":0,"domainColor":"#888888","labelFont":"DejaVu Sans","labelFontSize":19,"labelColor":"#555555","labelPadding":7,"labelFlush":false,"labelOverlap":false}},
  "y":{"field":"y","type":"quantitative","scale":{"domain":[0,1],"nice":false,"zero":false},
       "axis":{"values":[0,0.1,0.2,0.3,0.4,0.5,0.6,0.7,0.8,0.9,1],"title":null,"grid":true,"gridColor":"#c8c8c8","gridWidth":1,"ticks":false,"tickSize":0,"domainColor":"#888888","labelFont":"DejaVu Sans","labelFontSize":19,"labelColor":"#555555","labelPadding":5,"labelFlush":false,"labelOverlap":false,
               "labelExpr":"datum.value == 0 ? '0.' : datum.value == 1 ? '1.' : format(datum.value, '.1f')"}},
  "color":{"field":"c","type":"nominal","legend":null,
       "scale":{"domain":[0,1,2,3,4,5,6,7,8,9,10,11,12,13,14,15,16,17,18,19,20,21,22,23,24,25,26,27,28,29,30,31,32,33,34,35,36,37,38,39,40,41,42,43,44,45,46,47,48,49,50,51,52,53,54,55,56,57,58,59,60,61,62,63,64,65,66,67,68,69,70,71,72,73,74,75,76,77,78,79,80,81,82,83,84,85,86,87,88,89,90,91,92,93,94,95,96,97,98,99,100],
                "range":["#5E81B5","#E19C24","#8FB032","#EB6235","#8778B3","#C56E1A","#5D9EC7","#FFBF00","#A5609D","#929600","#E95536","#6685D9","#F89F13","#BC5B80","#47B66D"]}}
 }},
{"transform":[{"filter":{"field":"c","equal":50}}],
 "mark":{"type":"line","interpolate":"monotone","strokeWidth":13,"color":"#0000FF","strokeCap":"butt","clip":true},
 "encoding":{"x":{"field":"t","type":"quantitative"},"y":{"field":"y","type":"quantitative"}}},
{"mark":{"type":"text","text":"100","align":"left","baseline":"alphabetic","font":"Liberation Sans","fontSize":27,"fontWeight":"bold","color":"#333333"},
 "encoding":{"x":{"datum":896},"y":{"datum":0.044}}},
{"mark":{"type":"text","text":"·","align":"center","baseline":"alphabetic","font":"Liberation Sans","fontSize":29,"fontWeight":"bold","color":"#333333"},
 "encoding":{"x":{"datum":960},"y":{"datum":0.044}}},
{"mark":{"type":"text","text":"t","align":"center","baseline":"alphabetic","font":"Liberation Sans","fontSize":29,"fontWeight":"bold","fontStyle":"italic","color":"#333333"},
 "encoding":{"x":{"datum":978},"y":{"datum":0.044}}}
]
}
